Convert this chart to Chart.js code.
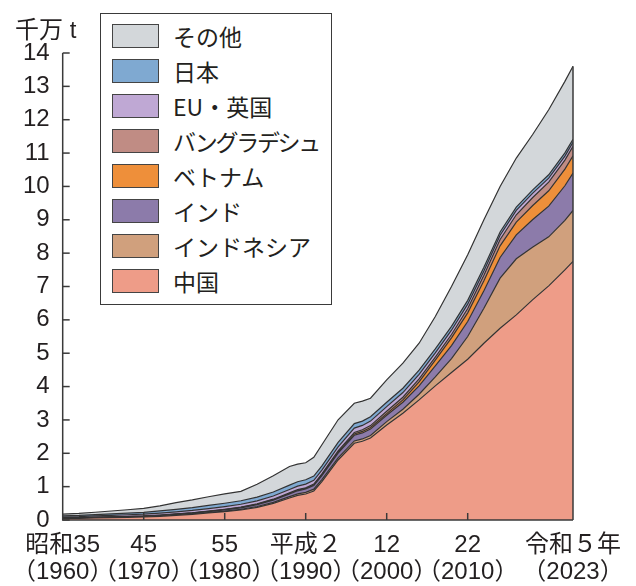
<!DOCTYPE html>
<html>
<head>
<meta charset="utf-8">
<script src="https://cdn.jsdelivr.net/npm/chart.js@4.4.1/dist/chart.umd.min.js"></script>
<style>
html,body{margin:0;padding:0;background:#fff;}
#wrap{position:relative;width:636px;height:586px;overflow:hidden;}
#c{position:absolute;left:0;top:0;}
#unit{position:absolute;left:15px;top:14px;font-size:24px;line-height:32px;color:#231f20;font-family:'Liberation Sans','Noto Sans CJK JP',sans-serif;white-space:nowrap;}
#legendBox{position:absolute;left:100px;top:13px;width:232px;height:292px;box-sizing:border-box;border:1.5px solid #3a3a3a;background:#fff;}
.sw{position:absolute;left:112px;width:47px;height:24px;box-sizing:border-box;border:1.5px solid #444;}
.lt{position:absolute;left:173px;height:32px;line-height:32px;font-size:23px;color:#231f20;font-family:'Noto Sans CJK JP','Liberation Sans',sans-serif;white-space:nowrap;}
</style>
</head>
<body>
<div id="wrap">
<canvas id="c" width="636" height="586"></canvas>
<div id="unit">千万 t</div>
<div id="legendBox"></div>
</div>
<script>
// ---- data (unit: 千万 t) ----
const years = [1960,1962,1964,1966,1968,1970,1972,1974,1976,1978,1980,1982,1984,1986,1988,1989,1990,1991,1992,1994,1996,1997,1998,2000,2002,2004,2006,2008,2010,2012,2014,2016,2018,2020,2022,2023];

const seriesNames = ['中国','インドネシア','インド','ベトナム','バングラデシュ','EU・英国','日本','その他'];
const seriesColors = ['#ee9c88','#d0a07d','#8c7baa','#ee8f3a','#c08c84','#bfa8d4','#7fa9d1','#d3d7da'];

const china      = [0.05,0.05,0.06,0.07,0.08,0.09,0.11,0.14,0.17,0.21,0.25,0.30,0.38,0.50,0.66,0.74,0.78,0.87,1.15,1.80,2.30,2.36,2.46,2.85,3.20,3.60,4.02,4.42,4.82,5.30,5.75,6.15,6.60,7.02,7.50,7.75];
const indonesia  = [0.005,0.005,0.006,0.007,0.008,0.009,0.010,0.011,0.012,0.014,0.016,0.020,0.025,0.030,0.040,0.045,0.050,0.055,0.060,0.065,0.070,0.070,0.075,0.10,0.12,0.17,0.27,0.42,0.68,1.05,1.50,1.68,1.58,1.47,1.48,1.53];
const india      = [0.008,0.009,0.010,0.011,0.012,0.013,0.015,0.018,0.022,0.027,0.037,0.045,0.055,0.065,0.080,0.090,0.10,0.11,0.12,0.14,0.17,0.18,0.19,0.19,0.21,0.25,0.33,0.39,0.45,0.52,0.62,0.72,0.82,0.92,1.04,1.12];
const vietnam    = [0.003,0.003,0.004,0.004,0.005,0.005,0.006,0.006,0.007,0.008,0.010,0.011,0.012,0.014,0.016,0.017,0.016,0.018,0.020,0.030,0.040,0.045,0.050,0.050,0.070,0.12,0.17,0.23,0.26,0.30,0.35,0.38,0.42,0.46,0.50,0.52];
const bangladesh = [0.002,0.002,0.002,0.003,0.003,0.004,0.005,0.006,0.007,0.008,0.010,0.011,0.012,0.015,0.018,0.019,0.020,0.025,0.030,0.035,0.045,0.050,0.055,0.070,0.080,0.090,0.090,0.10,0.13,0.17,0.19,0.22,0.24,0.26,0.27,0.28];
const euUk       = [0.030,0.035,0.040,0.045,0.050,0.055,0.060,0.065,0.070,0.075,0.080,0.085,0.090,0.095,0.10,0.105,0.11,0.11,0.115,0.12,0.13,0.13,0.135,0.14,0.14,0.135,0.13,0.13,0.13,0.125,0.125,0.13,0.13,0.12,0.12,0.12];
const japan      = [0.030,0.035,0.040,0.045,0.050,0.055,0.065,0.075,0.085,0.095,0.10,0.105,0.11,0.12,0.13,0.13,0.13,0.13,0.13,0.135,0.135,0.13,0.13,0.13,0.13,0.125,0.12,0.115,0.115,0.11,0.10,0.10,0.10,0.10,0.095,0.09];
const others     = [0.05,0.06,0.07,0.085,0.10,0.12,0.15,0.20,0.23,0.26,0.28,0.28,0.39,0.49,0.56,0.53,0.51,0.56,0.63,0.68,0.61,0.60,0.555,0.67,0.75,0.81,0.97,1.195,1.365,1.425,1.365,1.47,1.66,1.95,2.145,2.19];

const seriesValues = [china,indonesia,india,vietnam,bangladesh,euUk,japan,others];

const xTickYears = [1960,1970,1980,1990,2000,2010,2023];
const xLabelEra  = ['昭和35','45','55','平成２','12','22','令和５年'];
const xLabelAD   = ['（1960）','（1970）','（1980）','（1990）','（2000）','（2010）','（2023）'];
const xMarkYears = [1970,1980,1990,2000,2010];
const yTickValues = [0,1,2,3,4,5,6,7,8,9,10,11,12,13,14];

// ---- legend (HTML, order reversed: その他 on top) ----
const wrap = document.getElementById('wrap');
for (let k = 0; k < seriesNames.length; k++) {
  const i = seriesNames.length - 1 - k;
  const sw = document.createElement('div');
  sw.className = 'sw';
  sw.style.top = (24 + 35 * k) + 'px';
  sw.style.background = seriesColors[i];
  wrap.appendChild(sw);
  const t = document.createElement('div');
  t.className = 'lt';
  t.style.top = (36 + 35 * k - 16) + 'px';
  t.textContent = seriesNames[i];
  wrap.appendChild(t);
  const w = t.getBoundingClientRect().width;
  if (w > 146) {
    t.style.letterSpacing = ((146 - w) / seriesNames[i].length) + 'px';
  }
}

const FONT = "'Liberation Sans','Noto Sans CJK JP',sans-serif";
const INK = '#231f20';
const AXIS = '#3a3a3a';

const innerTicks = {
  id: 'innerTicks',
  afterDatasetsDraw(chart) {
    const {ctx, scales: {x, y}} = chart;
    ctx.save();
    ctx.strokeStyle = AXIS;
    ctx.lineWidth = 1.5;
    const meta = chart.getDatasetMeta(chart.data.datasets.length - 1);
    const last = meta.data[meta.data.length - 1];
    const y0 = y.getPixelForValue(0);
    ctx.beginPath();
    ctx.moveTo(last.x, last.y);
    ctx.lineTo(last.x, y0);
    ctx.stroke();
    ctx.beginPath();
    ctx.moveTo(x.left, y.getPixelForValue(14));
    ctx.lineTo(x.left, y0);
    ctx.lineTo(x.right, y0);
    ctx.stroke();
    yTickValues.forEach(v => {
      const py = y.getPixelForValue(v);
      ctx.beginPath();
      ctx.moveTo(x.left, py);
      ctx.lineTo(x.left + 7, py);
      ctx.stroke();
    });
    xMarkYears.forEach(v => {
      const px = x.getPixelForValue(v);
      ctx.beginPath();
      ctx.moveTo(px, y0);
      ctx.lineTo(px, y0 - 7);
      ctx.stroke();
    });
    ctx.restore();
  }
};

const datasets = seriesNames.map((name, i) => ({
  label: name,
  data: years.map((yr, j) => ({x: yr, y: seriesValues[i][j]})),
  backgroundColor: seriesColors[i],
  borderColor: '#333',
  borderWidth: 1.2,
  pointRadius: 0,
  tension: 0,
  fill: i === 0 ? 'origin' : '-1'
}));

new Chart(document.getElementById('c'), {
  type: 'line',
  data: {datasets},
  options: {
    responsive: false,
    animation: false,
    events: [],
    layout: {padding: {left: 0, right: 63, top: 53, bottom: 0}},
    plugins: {legend: {display: false}, tooltip: {enabled: false}, title: {display: false}},
    scales: {
      x: {
        type: 'linear',
        min: 1960, max: 2023,
        afterBuildTicks(scale) { scale.ticks = xTickYears.map(v => ({value: v})); },
        afterFit(scale) { scale.height = 66; },
        grid: {display: false, drawTicks: false},
        border: {display: false},
        ticks: {
          autoSkip: false, maxRotation: 0, minRotation: 0,
          padding: 12,
          color: INK,
          font: {family: FONT, size: 24, lineHeight: 1.125},
          callback(value) {
            const i = xTickYears.indexOf(value);
            return i < 0 ? '' : [xLabelEra[i], xLabelAD[i]];
          }
        }
      },
      y: {
        stacked: true,
        min: 0, max: 14,
        afterBuildTicks(scale) { scale.ticks = yTickValues.map(v => ({value: v})); },
        afterFit(scale) { scale.width = 51; },
        grid: {display: false, drawTicks: false},
        border: {display: false},
        ticks: {
          padding: 13,
          color: INK,
          font: {family: FONT, size: 24},
          callback: v => String(v)
        }
      }
    }
  },
  plugins: [innerTicks]
});
</script>
</body>
</html>
